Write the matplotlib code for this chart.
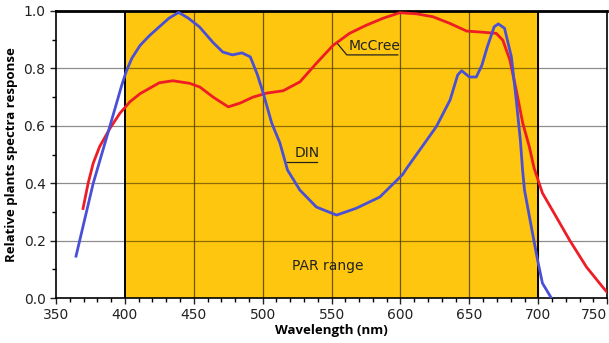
import numpy as np
import matplotlib.pyplot as plt

# DIN curve (blue)
din_nm = [364.5, 377, 389, 397.6, 401, 405, 411, 418, 425, 432, 439, 446, 454, 464, 471,
          478, 485, 491, 496, 500, 506.5, 512.5, 518, 527, 539, 553.6, 568, 585, 601.5,
          604.5, 626, 636, 641.5, 644.4, 650, 655, 659, 663, 668, 671, 675.5, 680.5, 684,
          687, 688.6, 690, 695, 699.5, 703, 709.5]
din_val = [0.146, 0.40, 0.597, 0.74, 0.79, 0.835, 0.88, 0.915, 0.945, 0.975, 0.995, 0.975,
           0.945, 0.89, 0.857, 0.847, 0.854, 0.84, 0.78, 0.72, 0.61, 0.54, 0.446, 0.376,
           0.317, 0.289, 0.313, 0.352, 0.43, 0.452, 0.597, 0.69, 0.777, 0.792, 0.77, 0.77,
           0.81, 0.875, 0.945, 0.955, 0.94, 0.84, 0.69, 0.55, 0.446, 0.376, 0.247, 0.132,
           0.052, 0.0]

# McCree curve (red)
mccree_nm = [369.6, 373.3, 377, 381.6, 389, 396.4, 403.7, 411, 425, 434.8, 447, 454.4, 464,
             475, 483.5, 493, 503, 514.8, 527, 539, 551, 563, 575, 587, 599.5, 611.7, 623.5,
             635.7, 648, 659.7, 669.5, 674.3, 679.3, 684, 688.7, 693.5, 697, 703, 713, 722.7,
             735, 746.8, 750]
mccree_val = [0.312, 0.40, 0.47, 0.527, 0.59, 0.644, 0.684, 0.712, 0.75, 0.757, 0.748, 0.735,
              0.70, 0.666, 0.679, 0.70, 0.714, 0.722, 0.753, 0.818, 0.88, 0.922, 0.95, 0.974,
              0.994, 0.99, 0.98, 0.957, 0.93, 0.926, 0.922, 0.898, 0.83, 0.725, 0.61, 0.527,
              0.452, 0.366, 0.283, 0.202, 0.108, 0.038, 0.02]

par_lo, par_hi = 400, 700
x_ticks = list(range(350, 751, 50))
y_ticks = [0.0, 0.2, 0.4, 0.6, 0.8, 1.0]

fig = plt.figure(figsize=(6.09, 3.43), dpi=100)
ax = fig.add_axes([0.092, 0.131, 0.905, 0.837])

ax.axvspan(par_lo, par_hi, color="#FEC60E", zorder=0)
for y in y_ticks[1:-1]:
    ax.axhline(y, color="black", alpha=0.45, lw=0.9, zorder=1)
for x in range(450, 700, 50):
    ax.axvline(x, color="#4a3c00", alpha=0.8, lw=0.9, zorder=1)
for x in (par_lo, par_hi):
    ax.axvline(x, color="black", lw=1.4, zorder=1)

ax.plot(mccree_nm, mccree_val, color="#EE1C25", lw=2.0, zorder=3, solid_joinstyle="round")
ax.plot(din_nm, din_val, color="#4A50D6", lw=2.0, zorder=4, solid_joinstyle="round")

# labels with underlines / leader
ax.plot([554.5, 561, 598], [0.885, 0.847, 0.847], color="#222222", lw=0.9, zorder=5)
ax.text(562.5, 0.853, "McCree", fontsize=10, color="#222222", va="bottom", ha="left")
ax.plot([517.5, 539.5], [0.474, 0.474], color="#222222", lw=0.9, zorder=5)
ax.text(523.5, 0.48, "DIN", fontsize=10, color="#222222", va="bottom", ha="left")
ax.text(521, 0.111, "PAR range", fontsize=10, color="#222222", va="center", ha="left")

ax.set_xlim(350, 750)
ax.set_ylim(0, 1.0)
ax.set_xticks(x_ticks)
ax.set_xticks(range(350, 751, 10), minor=True)
ax.set_yticks(y_ticks)
ax.set_yticks(np.arange(0, 1.01, 0.1), minor=True)
ax.set_yticklabels(["%.1f" % v for v in y_ticks])
ax.tick_params(labelsize=10, colors="#222222", length=4, width=1)
ax.tick_params(which="minor", length=3, width=1)
ax.get_xticklabels()[-1].set_horizontalalignment("right")
for s in ax.spines.values():
    s.set_color("black")
    s.set_linewidth(1.2)
ax.spines["top"].set_linewidth(2)

ax.set_xlabel("Wavelength (nm)", fontsize=9.5, fontweight="bold", family="Open Sans", labelpad=1)
ax.set_ylabel("Relative plants spectra response", fontsize=9.5, fontweight="bold",
              family="Open Sans", labelpad=4)

fig.savefig("out.png", dpi=100)
